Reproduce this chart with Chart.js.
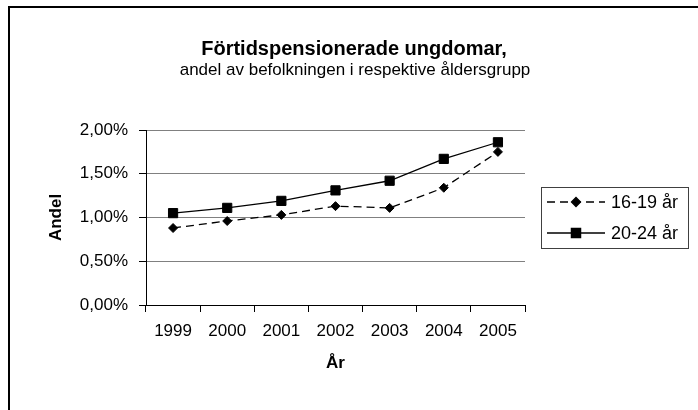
<!DOCTYPE html>
<html>
<head>
<meta charset="utf-8">
<script src="https://cdn.jsdelivr.net/npm/chart.js@4/dist/chart.umd.min.js"></script>
<style>
  html, body { margin: 0; padding: 0; background: #fff; }
  #wrap { width: 698px; height: 410px; }
</style>
</head>
<body>
<div id="wrap"><canvas id="chart" width="698" height="410"></canvas></div>
<script>
// data
const years = ["1999", "2000", "2001", "2002", "2003", "2004", "2005"];
const ungdom1619 = [0.88, 0.96, 1.03, 1.13, 1.11, 1.34, 1.75];
const ungdom2024 = [1.05, 1.11, 1.19, 1.31, 1.42, 1.67, 1.86];
const yTicks = [0, 0.5, 1.0, 1.5, 2.0];

const FONT = '"Liberation Sans", Arial, Helvetica, sans-serif';
Chart.defaults.font.family = FONT;
Chart.defaults.color = "#000";

function pct(v) {
  return v.toFixed(2).replace(".", ",") + "%";
}

// frame, title and boxed legend like the old spreadsheet chart
const decor = {
  id: "decor",
  afterDraw(chart) {
    const ctx = chart.ctx;
    const area = chart.chartArea;
    ctx.save();

    // outer frame (only left and top are inside the picture)
    ctx.strokeStyle = "#000";
    ctx.lineWidth = 2;
    ctx.beginPath();
    ctx.moveTo(9, 420);
    ctx.lineTo(9, 7);
    ctx.lineTo(710, 7);
    ctx.stroke();

    // title + subtitle
    ctx.fillStyle = "#000";
    ctx.textAlign = "center";
    ctx.textBaseline = "alphabetic";
    ctx.font = "bold 20px " + FONT;
    ctx.fillText("Förtidspensionerade ungdomar,", 354, 55);
    ctx.font = "17px " + FONT;
    ctx.fillText("andel av befolkningen i respektive åldersgrupp", 355, 75);

    // legend
    const cy = (area.top + area.bottom) / 2;
    const left = area.right + 16;
    const boxW = 147, boxH = 61;
    const top = Math.round(cy - boxH / 2);
    ctx.strokeStyle = "#404040";
    ctx.lineWidth = 1;
    ctx.strokeRect(left + 0.5, top + 0.5, boxW, boxH);

    chart.data.datasets.forEach((ds, i) => {
      const y = top + 15 + i * 31;
      ctx.strokeStyle = ds.borderColor;
      ctx.lineWidth = ds.borderWidth;
      ctx.setLineDash(ds.borderDash || []);
      ctx.beginPath();
      ctx.moveTo(left + 6, y);
      ctx.lineTo(left + 64, y);
      ctx.stroke();
      ctx.setLineDash([]);
      ctx.fillStyle = ds.pointBackgroundColor;
      Chart.helpers.drawPoint(ctx, {
        pointStyle: ds.pointStyle,
        radius: ds.pointRadius,
        borderWidth: ds.pointBorderWidth,
        rotation: 0
      }, left + 35, y);
      ctx.fillStyle = "#000";
      ctx.textAlign = "left";
      ctx.textBaseline = "middle";
      ctx.font = "18px " + FONT;
      ctx.fillText(ds.label, left + 70, y + 1);
    });
    ctx.restore();
  }
};

const ctx = document.getElementById("chart").getContext("2d");
const chart = new Chart(ctx, {
  type: "line",
  data: {
    labels: years,
    datasets: [
      {
        label: "16-19 år",
        data: ungdom1619,
        borderColor: "#000",
        borderWidth: 1.3,
        borderDash: [8, 5],
        pointStyle: "rectRot",
        pointRadius: 4.5,
        pointBorderWidth: 1,
        pointBackgroundColor: "#000",
        pointBorderColor: "#000",
        tension: 0
      },
      {
        label: "20-24 år",
        data: ungdom2024,
        borderColor: "#000",
        borderWidth: 1.3,
        pointStyle: "rect",
        pointRadius: 6.5,
        pointBorderWidth: 1,
        pointBackgroundColor: "#000",
        pointBorderColor: "#000",
        tension: 0
      }
    ]
  },
  options: {
    responsive: false,
    animation: false,
    events: [],
    layout: { padding: { left: 0, right: 173, top: 130, bottom: 0 } },
    plugins: {
      legend: { display: false },
      title: { display: false },
      tooltip: { enabled: false }
    },
    scales: {
      x: {
        offset: true,
        afterFit(scale) { scale.height = 105; },
        grid: {
          offset: true,
          color: (c) => (c.index === years.length ? "#808080" : "rgba(0,0,0,0)"),
          tickColor: "#000",
          tickLength: 7
        },
        border: { color: "#000", width: 1 },
        ticks: { font: { size: 17 }, color: "#000", padding: 9, maxRotation: 0 },
        title: {
          display: true,
          text: "År",
          font: { size: 17, weight: "bold" },
          color: "#000",
          padding: { top: 0, bottom: 36 }
        }
      },
      y: {
        min: 0,
        max: 2,
        afterFit(scale) { scale.width = 146; },
        afterBuildTicks(scale) { scale.ticks = yTicks.map((v) => ({ value: v })); },
        grid: {
          color: (c) => (c.tick && c.tick.value === 0 ? "#000" : "#808080"),
          tickColor: "#000",
          tickLength: 7
        },
        border: { color: "#000", width: 1 },
        ticks: {
          font: { size: 17 },
          color: "#000",
          padding: 11,
          callback: (v) => pct(v)
        },
        title: {
          display: true,
          text: "Andel",
          font: { size: 17, weight: "bold" },
          color: "#000",
          padding: { top: 46, bottom: 0 }
        }
      }
    }
  },
  plugins: [decor]
});
</script>
</body>
</html>
